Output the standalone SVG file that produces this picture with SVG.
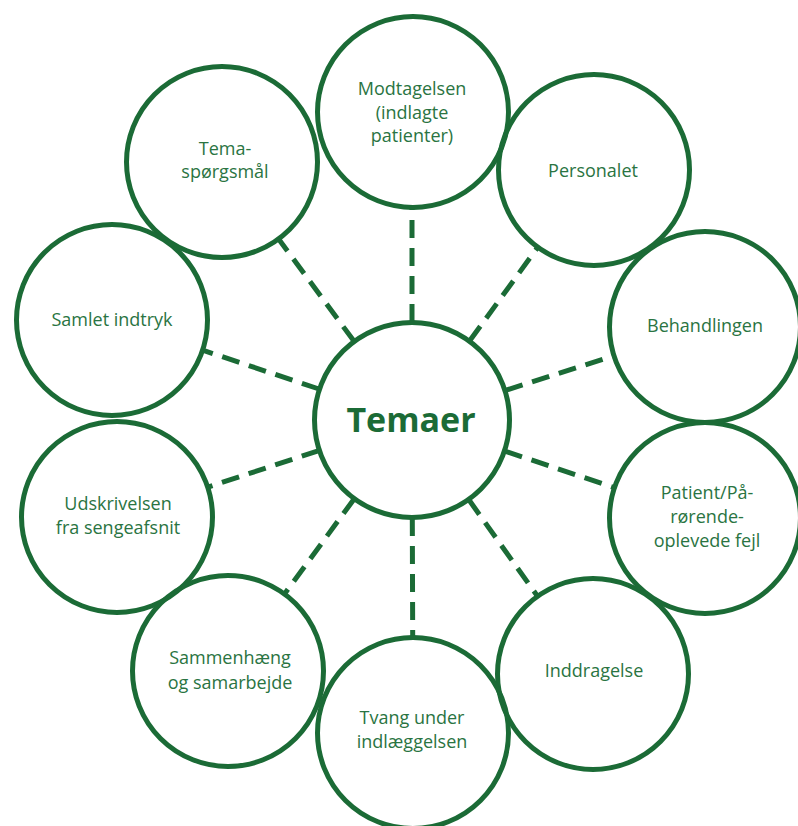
<svg xmlns="http://www.w3.org/2000/svg" width="798" height="826" viewBox="0 0 798 826">
<style>
.c{fill:none;stroke:#1b6b36;stroke-width:5}
.t{font-family:"Open Sans","Noto Sans",sans-serif;font-size:18px;fill:#2a7442;text-anchor:middle}
.b{font-family:"Open Sans","Noto Sans",sans-serif;font-size:34px;font-weight:bold;fill:#1b6b36;text-anchor:middle}
.d{stroke:#1b6b36;stroke-width:5;stroke-dasharray:18 10;fill:none}
</style>
<rect width="798" height="826" fill="#ffffff"/>
<g id="connectors">
<line class="d" x1="412" y1="322" x2="412" y2="206"/>
<line class="d" x1="469.7" y1="340.8" x2="538.7" y2="246"/>
<line class="d" x1="505.4" y1="390.4" x2="615.4" y2="355.4"/>
<line class="d" x1="504.9" y1="451.1" x2="615.9" y2="488.2"/>
<line class="d" x1="468.9" y1="499.8" x2="538.4" y2="597.5"/>
<line class="d" x1="412.3" y1="518" x2="412.7" y2="639"/>
<line class="d" x1="354.1" y1="499" x2="283.6" y2="595.2"/>
<line class="d" x1="318.9" y1="450.6" x2="206.3" y2="487.6"/>
<line class="d" x1="319" y1="389" x2="201.2" y2="349.7"/>
<line class="d" x1="353.9" y1="341.1" x2="277.7" y2="237.7"/>
</g>
<g id="n-tema">
<circle class="c" cx="222" cy="162" r="95.5"/>
<text class="t" x="225" y="155">Tema-</text>
<text class="t" x="225" y="178">spørgsmål</text>
</g>
<g id="n-samlet">
<circle class="c" cx="112" cy="320" r="95.5"/>
<text class="t" x="112" y="326">Samlet indtryk</text>
</g>
<g id="n-udskrivelsen">
<circle class="c" cx="117" cy="517" r="95.5"/>
<text class="t" x="118" y="510">Udskrivelsen</text>
<text class="t" x="118" y="534">fra sengeafsnit</text>
</g>
<g id="n-sammenhaeng">
<circle class="c" cx="228" cy="671" r="95.5"/>
<text class="t" x="230" y="664">Sammenhæng</text>
<text class="t" x="230" y="689">og samarbejde</text>
</g>
<g id="n-inddragelse">
<circle class="c" cx="593" cy="674" r="95.5"/>
<text class="t" x="594" y="677">Inddragelse</text>
</g>
<g id="n-tvang">
<circle class="c" cx="413" cy="733" r="95.5"/>
<text class="t" x="412" y="724">Tvang under</text>
<text class="t" x="412" y="748">indlæggelsen</text>
</g>
<g id="n-patient">
<circle class="c" cx="705" cy="518" r="95.5"/>
<text class="t" x="707" y="499">Patient/På-</text>
<text class="t" x="707" y="523">rørende-</text>
<text class="t" x="707" y="547">oplevede fejl</text>
</g>
<g id="n-behandlingen">
<circle class="c" cx="705" cy="327" r="95.5"/>
<text class="t" x="705" y="332">Behandlingen</text>
</g>
<g id="n-personalet">
<circle class="c" cx="594" cy="170" r="95.5"/>
<text class="t" x="593" y="177">Personalet</text>
</g>
<g id="n-modtagelsen">
<circle class="c" cx="413" cy="112" r="95.5"/>
<text class="t" x="412" y="95">Modtagelsen</text>
<text class="t" x="412" y="118.5">(indlagte</text>
<text class="t" x="412" y="142">patienter)</text>
</g>
<g id="n-center">
<circle class="c" cx="412" cy="420" r="97.5"/>
<text class="b" x="411" y="432">Temaer</text>
</g>
</svg>
